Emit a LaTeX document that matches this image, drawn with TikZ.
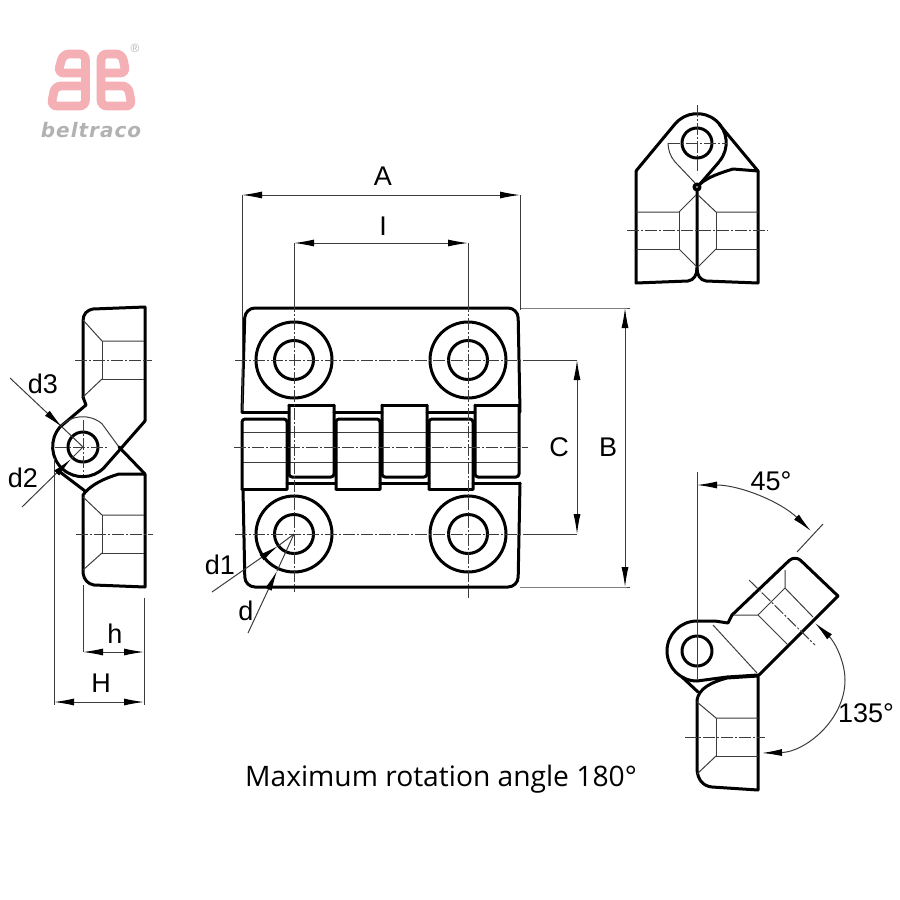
\documentclass[tikz,border=0pt]{standalone}
\usepackage{fontspec}
\setmainfont{Liberation Sans}
\newfontfamily\notefont{Open Sans}
\newfontfamily\logofont[LetterSpace=5]{DejaVu Sans}
\usetikzlibrary{arrows.meta}
\definecolor{logopink}{RGB}{244,176,180}
\definecolor{logogray}{RGB}{178,178,178}
\definecolor{hairgray}{RGB}{60,60,60}
\tikzset{
  outline/.style={black,line width=3pt,line join=round,line cap=round},
  hairline/.style={hairgray,line width=1pt},
  centre/.style={hairgray,line width=1pt,dash pattern=on 12pt off 2pt on 2pt off 2pt},
  dimline/.style={hairgray,line width=1pt,{Latex[length=20pt,width=7pt,black]}-{Latex[length=20pt,width=7pt,black]}},
  leader/.style={hairgray,line width=1pt,-{Latex[length=20pt,width=7pt,black]}},
  lbl/.style={font=\fontsize{27}{32}\selectfont,inner sep=0pt},
  logostroke/.style={logopink,line width=8.8pt,rounded corners=6pt}
}
\begin{document}
\begin{tikzpicture}[x=1pt,y=-1pt]
\useasboundingbox (0,0) rectangle (900,900);

% logo
\draw[logostroke] (85.5,73)--(58,73)--(63,54)--(85.5,54)--(85.5,106)--(51,106)--(55,86)--(85.5,86);
\draw[logostroke] (101,73)--(126,73)--(122,54)--(101,54)--(101,106)--(132,106)--(128,86)--(101,86);
\node (regmark) at (135,48) [logogray,font=\fontsize{12}{12}\selectfont,inner sep=0pt]{®};
\node (logotext) at (91,130) [logogray,font=\logofont\bfseries\itshape\fontsize{20}{20}\selectfont,inner sep=0pt]{beltraco};

% front view
\draw[outline,rounded corners=10pt] (242,412)--(245,308)--(518,308)--(520,412);
\draw[outline,rounded corners=10pt] (243,489)--(245,587)--(518,587)--(520,483);
\foreach \cx/\cy in {294/360,468/360,294/534,468/534}{
  \draw[outline] (\cx,\cy) circle (38);
  \draw[outline] (\cx,\cy) circle (19.5);
}
\draw[hairline] (242,432)--(519,432);
\draw[hairline] (242,462)--(519,462);
\foreach \xa/\xb in {289/334,382/427,475/519}{
  \draw[outline,rounded corners=3pt] (\xa,405)--(\xa,477)--(\xb,477)--(\xb,405);
  \draw[outline] (\xa,405)--(\xb,405);
}
\foreach \xa/\xb in {242/287,336/380,429/473}{
  \draw[outline,rounded corners=3pt] (\xa,489)--(\xa,419)--(\xb,419)--(\xb,489);
  \draw[outline] (\xa,489)--(\xb,489);
}
\foreach \xa/\xb in {242/289,334/382,427/475}{
  \draw[outline] (\xa,412)--(\xb,412);
}
\foreach \xa/\xb in {287/336,380/429,473/520}{
  \draw[outline] (\xa,483)--(\xb,483);
}
\draw[centre] (234,447)--(528,447);
\draw[centre] (235,360)--(530,360);
\draw[centre] (235,534)--(530,534);
\draw[centre] (294,300)--(294,592);
\draw[centre] (468,300)--(468,598);

% front view dimensions
\coordinate (Aleft) at (242,195);
\coordinate (Aright) at (520,195);
\coordinate (Ileft) at (294,243);
\coordinate (Iright) at (468,243);
\coordinate (Ctop) at (577,360);
\coordinate (Cbot) at (577,534);
\coordinate (Btop) at (625,308);
\coordinate (Bbot) at (625,587);
\coordinate (holeC) at (294,534);
\draw[hairline] (Aleft)--(242,410);
\draw[hairline] (Aright)--(520,310);
\draw[hairline] (Ileft)--(294,300);
\draw[hairline] (Iright)--(468,300);
\draw[hairline] (530,360)--(Ctop);
\draw[hairline] (530,534)--(Cbot);
\draw[hairline] (520,308)--(Btop)--(630,308);
\draw[hairline] (520,587)--(Bbot)--(630,587);
\draw[dimline] (Aleft)--(Aright);
\draw[dimline] (Ileft)--(Iright);
\draw[dimline] (Ctop)--(Cbot);
\draw[dimline] (Btop)--(Bbot);
\node (lblA) at (383,176) [lbl]{A};
\node (lblI) at (383,226) [lbl]{I};
\node (lblC) at (559,447) [lbl]{C};
\node (lblB) at (608,447) [lbl]{B};
\node (lbldone) at (220,565) [lbl]{d1};
\node (lbld) at (246,611) [lbl]{d};
\coordinate (doneEnd) at (212,592);
\coordinate (dEnd) at (248,633);
\draw[leader] (doneEnd)--(278,546);
\draw[hairline] (278,546)--(holeC);
\draw[leader] (dEnd)--(277,571);
\draw[hairline] (277,571)--(holeC);

% left view
\draw[outline] (145,421)--(145,307)--(93,309) .. controls (87,310) and (83,314) .. (83,321)--(83,397);
\draw[outline] (83,397)--(86,405)--(60,427) arc[start angle=221,end angle=45,radius=30]--(145,421);
\draw[hairline] (60,427) arc[start angle=221,end angle=310,radius=30]--(119,447);
\draw[outline] (119,447)--(145,474);
\draw[outline] (60,472)--(85,491);
\draw[outline] (83,447) circle (15);
\draw[outline] (145,474)--(119,474) .. controls (105,478) and (90,485) .. (83,495)--(83,573) .. controls (84,580) and (88,584) .. (94,585)--(145,587)--cycle;
\draw[hairline] (83,320)--(102,341)--(144,341);
\draw[hairline] (102,341)--(102,379)--(144,379);
\draw[hairline] (102,379)--(83,397);
\draw[hairline] (83,497)--(102,515)--(144,515);
\draw[hairline] (102,515)--(102,553)--(144,553);
\draw[hairline] (102,553)--(83,570);
\draw[centre] (75,360)--(152,360);
\draw[centre] (76,534)--(153,534);
\draw[centre] (55,447)--(107,447);
\draw[centre] (83,420)--(83,475);
\coordinate (Hleft) at (54,702);
\coordinate (Hright) at (144,702);
\coordinate (hleft) at (83,652);
\coordinate (hright) at (144,652);
\coordinate (eyeC) at (83,447);
\draw[hairline] (54,458)--(54,705);
\draw[hairline] (144,598)--(144,705);
\draw[hairline] (83,585)--(hleft);
\draw[dimline] (Hleft)--(Hright);
\draw[dimline] (hleft)--(hright);
\node (lblH) at (101,683) [lbl]{H};
\node (lblh) at (115,634) [lbl]{h};
\node (lbldthree) at (43,384) [lbl]{d3};
\node (lbldtwo) at (23,478) [lbl]{d2};
\coordinate (dthreeEnd) at (10,378);
\coordinate (dtwoEnd) at (22,507);
\draw[leader] (dthreeEnd)--(62,427);
\draw[hairline] (62,427)--(eyeC);
\draw[leader] (dtwoEnd)--(71,459);
\draw[hairline] (71,459)--(eyeC);

% top right view
\draw[outline] (636,171)--(675,124) arc[start angle=220,end angle=400,radius=29];
\draw[outline] (719,124)--(758,171)--(758,283)--(706,281) .. controls (700,280) and (697,275) .. (697,268)--(697,190);
\draw[outline] (636,171)--(636,283)--(688,281) .. controls (694,280) and (697,275) .. (697,268);
\draw[outline] (719,162)--(700,184);
\draw[outline] (758,171)--(733,169) .. controls (720,173) and (708,177) .. (700,184);
\draw[outline,line width=3.5pt] (697,187) circle (2.8);
\draw[outline] (697,143) circle (15);
\draw[hairline] (668,143) arc[start angle=180,end angle=140,radius=29]--(695,183);
\draw[hairline] (636,212)--(679,212)--(696,195);
\draw[hairline] (679,212)--(679,249)--(636,249);
\draw[hairline] (679,249)--(697,267);
\draw[hairline] (758,212)--(716,212)--(698,195);
\draw[hairline] (716,212)--(716,249)--(758,249);
\draw[hairline] (716,249)--(698,267);
\draw[centre] (627,230)--(768,230);
\draw[centre] (668,143)--(727,143);
\draw[centre] (697,105)--(697,173);

% bottom right view
\draw[outline] (697,621) arc[start angle=270,end angle=90,radius=30]--(727,677)--(758,675);
\draw[outline,rounded corners=8pt] (732,615)--(795,555)--(838,596);
\draw[outline] (697,621)--(715,621)--(728,623)--(732,615);
\draw[outline] (838,596)--(759,675);
\draw[outline] (682,677)--(698,692);
\draw[outline] (697,651) circle (15);
\draw[outline] (758,676)--(727,678) .. controls (712,682) and (699,688) .. (697,700)--(697,770) .. controls (698,780) and (703,786) .. (712,787)--(758,790)--cycle;
\draw[hairline] (713,625)--(757,673);
\draw[hairline] (733,615)--(758,615)--(785,588)--(785,570);
\draw[hairline] (785,588)--(813,617);
\draw[hairline] (758,615)--(788,645);
\draw[hairline] (697,702)--(716,718)--(758,718);
\draw[hairline] (716,718)--(716,756)--(758,756);
\draw[hairline] (716,756)--(697,774);
\draw[centre] (749,580)--(815,645);
\draw[centre] (685,737)--(765,737);
\coordinate (rotTop) at (697,485);
\coordinate (tickA) at (797,552);
\coordinate (tickB) at (823,524);
\coordinate (wingTip) at (815,623);
\coordinate (lowTip) at (762,753);
\draw[hairline] (697,472)--(697,680);
\draw[hairline] (tickA)--(tickB);
\draw[dimline] (rotTop) arc[start angle=270,end angle=314,radius=164];
\draw[dimline] (wingTip) .. controls (835,642) and (845,662) .. (845,680) .. controls (845,720) and (805,752) .. (lowTip);
\node (lblfive) at (771,481) [lbl]{45°};
\node (lblthirty) at (866,713) [lbl]{135°};

\node (caption) at (441,779) [font=\notefont\fontsize{28.2}{33}\selectfont,inner sep=0pt]{Maximum rotation angle 180°};
\end{tikzpicture}
\end{document}
